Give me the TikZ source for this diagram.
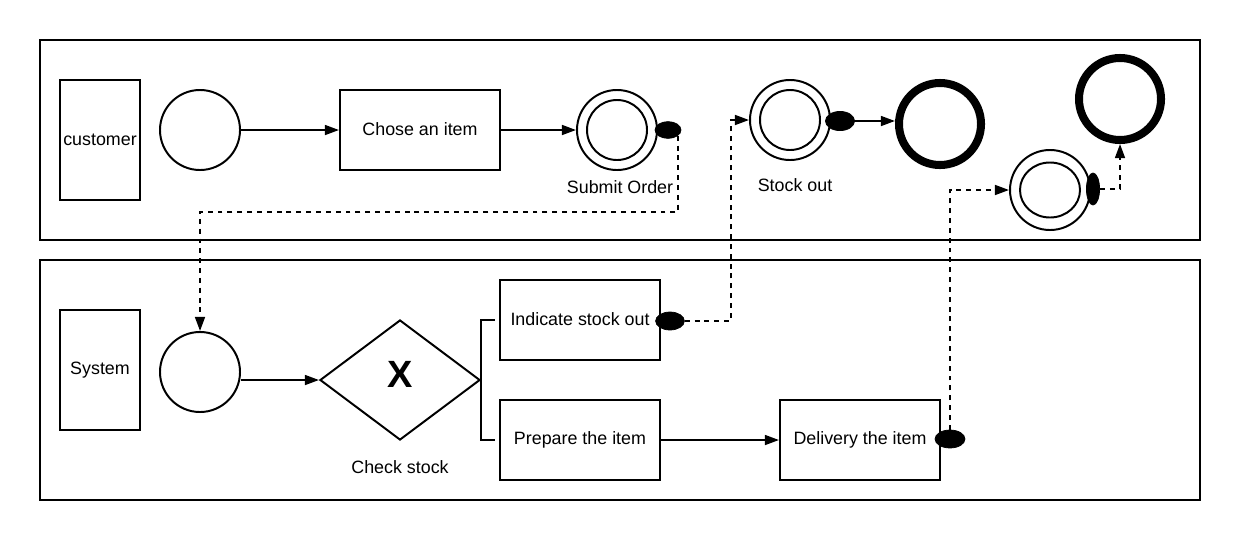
\documentclass[tikz,border=0pt]{standalone}
\usepackage{fontspec}
\setmainfont{Liberation Sans}
\usetikzlibrary{
	positioning,
	arrows.meta,
	shapes.geometric,
	calc}
\tikzset{
	bpmn/.style={
		line width=1.4pt,
		font=\fontsize{12.7}{15}\selectfont,
		x=0.025cm, y=-0.025cm
		},
	pool/.style={
		draw,
		line width=1.4pt
	},
	lane label/.style={
		draw,
		inner sep=0pt,
		minimum width=2cm,
		minimum height=3cm
	},
	event/.style={
		circle,
		draw,
		inner sep=0pt,
		minimum size=2cm
	},
	inner event/.style={
		circle,
		draw,
		inner sep=0pt,
		minimum size=1.5cm
	},
	end event/.style={
		circle,
		draw,
		line width=5.7pt,
		inner sep=0pt,
		minimum size=2.05cm
	},
	task/.style={
		draw,
		inner sep=0pt,
		minimum width=4cm,
		minimum height=2cm
	},
	gate/.style={
		diamond,
		draw,
		inner sep=0pt,
		minimum width=4cm,
		minimum height=3cm,
		text depth=8.5pt,
		font=\fontsize{27}{32}\selectfont\bfseries
	},
	handle/.style={
		ellipse,
		draw,
		fill=black,
		line width=0.5pt,
		inner sep=0pt,
		minimum width=0.65cm,
		minimum height=0.42cm
	},
	flow/.style={-{Triangle[length=10pt,width=7pt]}},
	message/.style={flow, dash pattern=on 3.5pt off 3.5pt},
}
\begin{document}
\begin{tikzpicture}[bpmn]
	\useasboundingbox (0,0) rectangle (1240,540);
	% pools
	\draw[pool] (40,40) rectangle (1200,240);
	\draw[pool] (40,260) rectangle (1200,500);
	\node[lane label] (cust) at (100,140) {customer};
	\node[lane label] (sys) at (100,370) {System};
	% customer lane
	\node[event] (start1) at (200,130) {};
	\node[task] (chose) at (420,130) {\raisebox{1.4pt}{Chose an item}};
	\node[event] (sub) at (617,130) {};
	\node[inner event] at (sub) {};
	\node[handle] (subh) at (668,130) {};
	\node (sublbl) at (620,187) {Submit Order};
	\node[event] (stock) at (790,120) {};
	\node[inner event] at (stock) {};
	\node[handle, minimum width=0.73cm, minimum height=0.48cm] (stockh) at (840,121) {};
	\node (stocklbl) at (795,185) {Stock out};
	\node[end event] (end1) at (940,124) {};
	\node[end event] (end2) at (1120,99) {};
	\node[event, ellipse] (mid) at (1050,190) {};
	\node[inner event, ellipse, minimum width=1.5cm, minimum height=1.375cm] at (mid) {};
	\node[handle, minimum width=0.33cm, minimum height=0.8cm] (midh) at (1093,189) {};
	% system lane
	\node[event] (start2) at (200,372) {};
	\node[gate] (chk) at (400,380) {X};
	\node (chklbl) at (400,467) {Check stock};
	\node[task] (ind) at (580,320) {\raisebox{1.4pt}{Indicate stock out}};
	\node[task] (prep) at (580,440) {Prepare the item};
	\node[task] (deliv) at (860,440) {Delivery the item};
	\node[handle, minimum width=0.72cm, minimum height=0.45cm] (indh) at (670,321) {};
	\node[handle, minimum width=0.75cm, minimum height=0.45cm] (delh) at (950,439) {};
	% sequence flows
	\draw[flow] (start1) -- (chose);
	\draw[flow] (chose) -- (sub);
	\draw[flow] (stockh.east) -- (stockh.east -| end1.west);
	\draw[flow] (chk.west -| start2.east) -- (chk.west);
	\draw[shorten >=3pt] (chk.east) |- (ind.west);
	\draw[shorten >=3pt] (chk.east) |- (prep.west);
	\draw[flow] (prep) -- (deliv);
	% message flows
	\draw[message] (subh.-30) -- ++(0,76) -| (start2.north);
	\draw[message] (indh.east) -- ++(46,0) |- (stock.west);
	\draw[message] (delh.north) |- (mid.west);
	\draw[message] (midh.east) -| (end2.south);
\end{tikzpicture}
\end{document}
